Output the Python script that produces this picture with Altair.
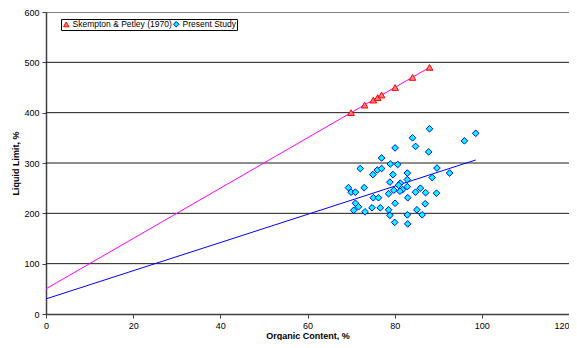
import altair as alt
import pandas as pd

# Skempton & Petley (1970)
sk_oc = [70.0, 73.1, 75.1, 76.1, 77.0, 80.1, 84.1, 88.0]
sk_ll = [400, 415, 425, 430, 435, 450, 470, 490]

# Present Study
ps_oc = [88.0, 84.1, 84.8, 80.1, 87.8, 96.0, 98.6, 77.0, 72.1, 76.0,
         77.0, 79.0, 80.7, 75.0, 79.6, 82.9, 89.7, 92.6, 82.9, 78.9,
         81.3, 80.9, 82.9, 81.8, 69.4, 73.0, 70.0, 71.0, 78.6, 79.8,
         81.2, 84.8, 85.9, 87.1, 83.0, 75.1, 76.3, 88.6, 89.6, 71.0,
         71.7, 70.6, 73.2, 74.8, 76.7, 78.6, 80.1, 87.0, 85.1, 78.9,
         82.9, 86.3, 80.0, 83.0]
ps_ll = [368, 350, 333, 330, 322, 344, 359, 310, 289, 286,
         289, 298, 297, 277, 277, 280, 290, 280, 267, 262,
         260, 256, 253, 247, 251, 251, 242, 242, 239, 246,
         244, 242, 250, 241, 231, 231, 231, 271, 240, 220,
         213, 206, 203, 211, 211, 207, 220, 219, 207, 196,
         197, 197, 182, 179]

# Trend lines
sk_line_oc = [0, 88]
sk_line_ll = [50, 490]
ps_line_oc = [0, 98.6]
ps_line_ll = [30, 306]

grid_vals = [100, 200, 300, 400, 500]
x_ticks = [0, 20, 40, 60, 80, 100, 120]
y_ticks = [0, 100, 200, 300, 400, 500, 600]

series_names = ["Skempton & Petley (1970)", "Present Study"]

pts = pd.DataFrame({
    "oc": sk_oc + ps_oc,
    "ll": sk_ll + ps_ll,
    "series": [series_names[0]] * len(sk_oc) + [series_names[1]] * len(ps_oc),
})
sk_line = pd.DataFrame({"oc": sk_line_oc, "ll": sk_line_ll})
ps_line = pd.DataFrame({"oc": ps_line_oc, "ll": ps_line_ll})
grid = pd.DataFrame({"ll": grid_vals})

FONT = "Liberation Sans"

xscale = alt.Scale(domain=[0, 120], nice=False, zero=False)
yscale = alt.Scale(domain=[0, 600], nice=False, zero=False)

xaxis = alt.Axis(values=x_ticks, title="Organic Content, %", grid=False,
                 labelFontSize=9, labelFont=FONT, labelColor="black",
                 labelAlign=alt.ExprRef(expr="datum.value == 120 ? 'right' : 'center'"),
                 titleFontSize=9, titleFont=FONT, titleFontWeight="bold", titleColor="black",
                 titleBaseline="middle", titleY=21,
                 domainColor="#404040", domainWidth=1.5, tickColor="#404040", tickSize=4,
                 labelPadding=3, labelFlush=False, labelOverlap=False)
yaxis = alt.Axis(values=y_ticks, title="Liquid Limit, %", grid=False,
                 labelFontSize=9, labelFont=FONT, labelColor="black",
                 titleFontSize=9, titleFont=FONT, titleFontWeight="bold", titleColor="black",
                 titleBaseline="middle", titleX=-31, titleY=151,
                 domainColor="#404040", domainWidth=1.5, tickColor="#404040", tickSize=4,
                 labelPadding=3, labelFlush=False, labelOverlap=False)

gridlayer = alt.Chart(grid).mark_rule(color="#1a1a1a", strokeWidth=1).encode(
    y=alt.Y("ll:Q", scale=yscale, axis=yaxis)
)

skl = alt.Chart(sk_line).mark_line(color="#FF00FF", strokeWidth=1).encode(
    x=alt.X("oc:Q", scale=xscale, axis=xaxis),
    y=alt.Y("ll:Q", scale=yscale, axis=yaxis),
)
psl = alt.Chart(ps_line).mark_line(color="#0000FF", strokeWidth=1).encode(
    x=alt.X("oc:Q", scale=xscale, axis=xaxis),
    y=alt.Y("ll:Q", scale=yscale, axis=yaxis),
)

legend = alt.Legend(title=None, orient="none", legendX=15, legendY=7,
                    direction="horizontal", strokeColor="black", fillColor="white",
                    padding=1, labelFontSize=8.5, labelFont=FONT, labelColor="black",
                    symbolSize=30, labelOffset=2, columnPadding=-5, symbolStrokeWidth=1)

points = alt.Chart(pts).mark_point(filled=False, strokeWidth=1, size=44, opacity=1).encode(
    x=alt.X("oc:Q", scale=xscale, axis=xaxis),
    y=alt.Y("ll:Q", scale=yscale, axis=yaxis),
    shape=alt.Shape("series:N", scale=alt.Scale(domain=series_names, range=["triangle-up", "diamond"]), legend=legend),
    fill=alt.Fill("series:N", scale=alt.Scale(domain=series_names, range=["#FF8080", "#00FFFF"]), legend=legend),
    stroke=alt.Stroke("series:N", scale=alt.Scale(domain=series_names, range=["#FF0000", "#0000FF"]), legend=legend),
)

chart = alt.layer(gridlayer, skl, psl, points).properties(
    width=523, height=302,
    autosize=alt.AutoSizeParams(type="none"),
    padding={"left": 38, "top": 4, "right": 0, "bottom": 26},
    background="white",
).configure_view(stroke="#808080", strokeWidth=1).configure_point(fillOpacity=1)

chart.save("out.html", embed_options={"renderer": "svg", "actions": False})
